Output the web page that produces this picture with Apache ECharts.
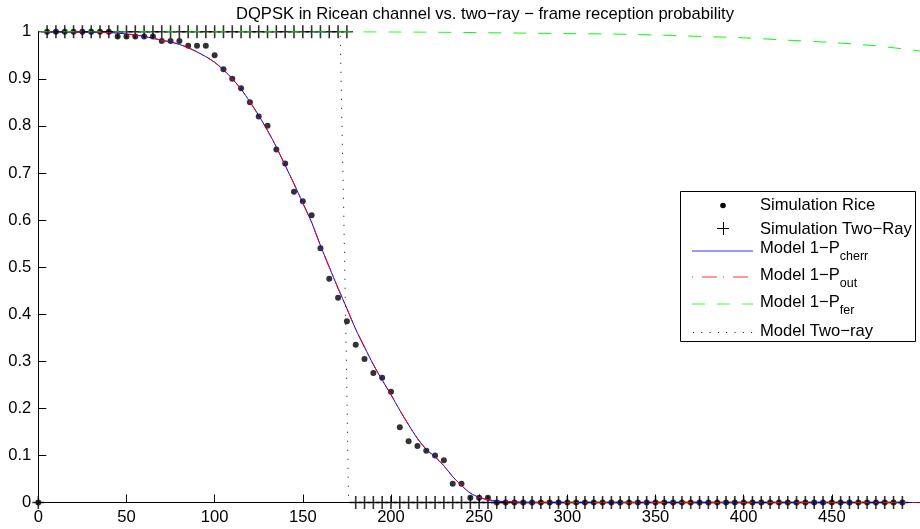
<!DOCTYPE html>
<html><head><meta charset="utf-8">
<script src="https://cdn.jsdelivr.net/npm/echarts@6/dist/echarts.min.js"></script>
<style>html,body{margin:0;padding:0;background:#fff}#c{width:920px;height:529px}</style>
</head><body><div id="c"></div>
<script>
const FONT = '"Liberation Sans", Arial, Helvetica, sans-serif';
const FS = 16.6;
const titleText = 'DQPSK in Ricean channel vs. two\u2212ray \u2212 frame reception probability';
const xTickLabels = ['0','50','100','150','200','250','300','350','400','450'];
const yTickLabels = ['0','0.1','0.2','0.3','0.4','0.5','0.6','0.7','0.8','0.9','1'];

// simulation distances
const simX = [0,5,10,15,20,25,30,35,40,45,50,55,60,65,70,75,80,85,90,95,
  100,105,110,115,120,125,130,135,140,145,150,155,160,165,170,175,180,185,190,195,
  200,205,210,215,220,225,230,235,240,245,250,255,260,265,270,275,280,285,290,295,
  300,305,310,315,320,325,330,335,340,345,350,355,360,365,370,375,380,385,390,395,
  400,405,410,415,420,425,430,435,440,445,450,455,460,465,470,475,480,485,490];
const riceY = [0,1,1,1,1,1,1,1,1,0.99,0.99,0.99,0.99,0.99,0.98,0.98,0.98,0.97,0.97,0.97,
  0.95,0.92,0.90,0.88,0.85,0.82,0.80,0.75,0.72,0.66,0.64,0.61,0.54,0.475,0.435,0.385,0.335,0.305,0.275,0.265,
  0.235,0.16,0.13,0.12,0.11,0.10,0.09,0.04,0.04,0.01,0.01,0.01,0,0,0,0,0,0,0,0,
  0,0,0,0,0,0,0,0,0,0,0,0,0,0,0,0,0,0,0,0,
  0,0,0,0,0,0,0,0,0,0,0,0,0,0,0,0,0,0,0];
const twoRayY = [0,1,1,1,1,1,1,1,1,1,1,1,1,1,1,1,1,1,1,1,
  1,1,1,1,1,1,1,1,1,1,1,1,1,1,1,1,0,0,0,0,
  0,0,0,0,0,0,0,0,0,0,0,0,0,0,0,0,0,0,0,0,
  0,0,0,0,0,0,0,0,0,0,0,0,0,0,0,0,0,0,0,0,
  0,0,0,0,0,0,0,0,0,0,0,0,0,0,0,0,0,0,0];

// model curves
const modelX = [0,5,10,15,20,25,30,35,40,45,50,55,60,65,70,75,80,85,90,95,
  100,105,110,115,120,125,130,135,140,145,150,155,160,165,170,175,180,185,190,195,
  200,205,210,215,220,225,230,235,240,245,250,255,260,265,270,275,280,300,350,400,450,500];
const cherrY = [1,1,1,1,1,1,0.999,0.999,0.998,0.997,0.995,0.993,0.990,0.986,0.982,0.978,0.973,0.966,0.957,0.947,
  0.935,0.919,0.900,0.878,0.851,0.822,0.790,0.755,0.716,0.677,0.636,0.595,0.546,0.500,0.455,0.412,0.368,0.330,0.293,0.260,
  0.229,0.196,0.165,0.136,0.113,0.097,0.078,0.055,0.036,0.020,0.011,0.006,0.003,0.002,0.001,0,0,0,0,0,0,0];
const outY = [1,1,1,1,1,1,0.999,0.999,0.998,0.997,0.995,0.993,0.990,0.986,0.982,0.978,0.973,0.966,0.957,0.947,
  0.935,0.919,0.900,0.878,0.851,0.822,0.790,0.755,0.716,0.677,0.636,0.595,0.546,0.500,0.455,0.412,0.368,0.330,0.293,0.260,
  0.229,0.196,0.165,0.136,0.113,0.097,0.078,0.055,0.036,0.020,0.011,0.006,0.003,0.002,0.001,0,0,0,0,0,0,0];
const ferX = [0,100,150,200,225,250,275,300,325,350,375,400,425,450,475,500];
const ferY = [1,1,1,0.9995,0.999,0.998,0.997,0.996,0.995,0.993,0.990,0.987,0.982,0.977,0.970,0.959];
const twoRayModelX = [0,171.2,172.2,173.1,174,175,175.8,176,500];
const twoRayModelY = [1,1,0.80,0.64,0.45,0.235,0.03,0,0];

const zip = (xs, ys) => xs.map((x, i) => [x, ys[i]]);
const PLUS = 'path://M0 5.8 H12 V7.2 H0 Z M5.2 0 H6.8 V13 H5.2 Z';

const chart = echarts.init(document.getElementById('c'), null, {renderer: 'canvas'});
const legendTextStyle = {fontSize: FS, fontFamily: FONT, fill: '#000', verticalAlign: 'middle', align: 'left'};
function subText(main, sub, y) {
  return {type: 'text', x: 760, y: y, z: 101, style: {
    text: '{m|' + main + '}{s|' + sub + '}',
    fontFamily: FONT, fontSize: FS, fill: '#000', verticalAlign: 'middle', align: 'left',
    rich: {
      m: {fontSize: FS, lineHeight: 18, fontFamily: FONT, fill: '#000'},
      s: {fontSize: 12.5, lineHeight: 12, fontFamily: FONT, fill: '#000', padding: [18, 0, 0, 0]}
    }
  }};
}

const option = {
  animation: false,
  backgroundColor: '#fff',
  title: {
    text: titleText, left: 485, top: 6, padding: 0, textAlign: 'center',
    textStyle: {fontSize: FS, fontWeight: 'normal', color: '#000', fontFamily: FONT}
  },
  grid: {left: 38.3, right: -12.8, top: 31.7, bottom: 26.5, containLabel: false},
  xAxis: {
    type: 'value', min: 0, max: 500, interval: 50,
    axisLine: {show: true, onZero: false, lineStyle: {color: '#000', width: 1}},
    axisTick: {show: true, inside: true, length: 8, lineStyle: {color: '#000', width: 1}},
    splitLine: {show: false},
    axisLabel: {
      color: '#000', fontSize: FS, fontFamily: FONT, margin: 6, showMaxLabel: false,
      formatter: v => { const s = String(Math.round(v)); return xTickLabels.includes(s) ? s : ''; }
    }
  },
  yAxis: {
    type: 'value', min: 0, max: 1, interval: 0.1,
    axisLine: {show: true, onZero: false, lineStyle: {color: '#000', width: 1}},
    axisTick: {show: true, inside: true, length: 8, lineStyle: {color: '#000', width: 1}},
    splitLine: {show: false},
    axisLabel: {
      color: '#000', fontSize: FS, fontFamily: FONT, margin: 7,
      formatter: v => yTickLabels[Math.round(v * 10)] || ''
    }
  },
  series: [
    {name: 'Simulation Rice', type: 'scatter', data: zip(simX, riceY), symbol: 'circle', symbolSize: 6,
      itemStyle: {color: '#000'}},
    {name: 'Simulation Two-Ray', type: 'scatter', data: zip(simX, twoRayY), symbol: PLUS, symbolSize: [12, 13],
      itemStyle: {color: '#000'}},
    {name: 'Model 1-P_cherr', type: 'line', data: zip(modelX, cherrY), showSymbol: false, smooth: 0.3,
      lineStyle: {color: '#0000ff', width: 1}},
    {name: 'Model 1-P_out', type: 'line', data: zip(modelX, outY), showSymbol: false, smooth: 0.3,
      lineStyle: {color: '#ff0000', width: 1, type: [15, 6, 2, 6]}},
    {name: 'Model 1-P_fer', type: 'line', data: zip(ferX, ferY), showSymbol: false, smooth: 0.3,
      lineStyle: {color: '#00ff00', width: 1, type: [13, 12]}},
    {name: 'Model Two-ray', type: 'line', data: zip(twoRayModelX, twoRayModelY), showSymbol: false,
      lineStyle: {color: '#000', width: 1, type: [1, 8]}}
  ],
  graphic: [
    {type: 'rect', z: 100, shape: {x: 680.5, y: 191.5, width: 235, height: 150},
      style: {fill: '#fff', stroke: '#000', lineWidth: 1}},
    {type: 'circle', z: 101, shape: {cx: 723, cy: 205.5, r: 2.8}, style: {fill: '#000'}},
    {type: 'text', z: 101, x: 760, y: 205.5, style: Object.assign({text: 'Simulation Rice'}, legendTextStyle)},
    {type: 'line', z: 101, shape: {x1: 717, y1: 228.5, x2: 729, y2: 228.5}, style: {stroke: '#000', lineWidth: 1}},
    {type: 'line', z: 101, shape: {x1: 723.5, y1: 222, x2: 723.5, y2: 235}, style: {stroke: '#000', lineWidth: 1}},
    {type: 'text', z: 101, x: 760, y: 229, style: Object.assign({text: 'Simulation Two\u2212Ray'}, legendTextStyle)},
    {type: 'line', z: 101, shape: {x1: 692, y1: 251, x2: 753, y2: 251}, style: {stroke: '#3333ff', lineWidth: 1}},
    subText('Model 1\u2212P', 'cherr', 248),
    {type: 'line', z: 101, shape: {x1: 692, y1: 277, x2: 753, y2: 277}, style: {stroke: '#ff3333', lineWidth: 1, lineDash: [1, 9, 15, 6]}},
    subText('Model 1\u2212P', 'out', 275),
    {type: 'line', z: 101, shape: {x1: 692, y1: 304, x2: 753, y2: 304}, style: {stroke: '#33ff33', lineWidth: 1, lineDash: [13, 12]}},
    subText('Model 1\u2212P', 'fer', 302),
    {type: 'line', z: 101, shape: {x1: 693, y1: 332.5, x2: 753, y2: 332.5}, style: {stroke: '#000', lineWidth: 1, lineDash: [1, 7.3]}},
    {type: 'text', z: 101, x: 760, y: 331.5, style: Object.assign({text: 'Model Two\u2212ray'}, legendTextStyle)}
  ]
};
chart.setOption(option);
</script>
</body></html>
